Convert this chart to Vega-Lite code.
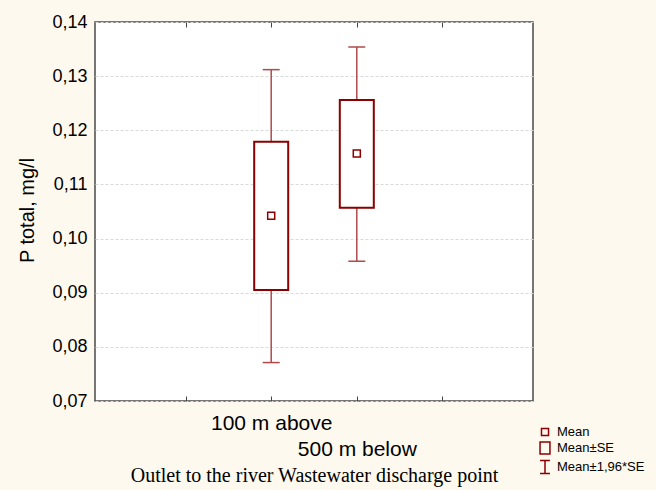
{
  "$schema": "https://vega.github.io/schema/vega-lite/v6.json",
  "width": 438,
  "height": 379,
  "autosize": {"type": "none"},
  "padding": {"left": 95, "top": 22, "right": 123, "bottom": 89},
  "background": "#FDF9EE",
  "config": {
    "view": {"stroke": "#4a4a4a", "strokeWidth": 1.5, "fill": "white"},
    "font": "Liberation Sans"
  },
  "datasets": {
    "stats": [
      {"site": "100 m above", "pos": 2, "mean": 0.1042, "se_lo": 0.0905, "se_hi": 0.1179, "ci_lo": 0.0771, "ci_hi": 0.1312, "series": "Mean"},
      {"site": "500 m below", "pos": 3, "mean": 0.1157, "se_lo": 0.1057, "se_hi": 0.1256, "ci_lo": 0.0958, "ci_hi": 0.1354, "series": "Mean"}
    ]
  },
  "data": {"name": "stats"},
  "layer": [
    {
      "mark": {"type": "rule", "color": "#B04A4A", "strokeWidth": 1.5},
      "encoding": {
        "x": {
          "field": "pos", "type": "quantitative",
          "scale": {"domain": [0, 5], "nice": false, "zero": false},
          "axis": {
            "orient": "bottom",
            "offset": -5,
            "values": [1, 2, 3, 4],
            "labelExpr": "datum.value == 2 ? '100 m above' : datum.value == 3 ? ['', '500 m below'] : ''",
            "labelFontSize": 21,
            "labelLineHeight": 26,
            "labelColor": "black",
            "labelPadding": 11,
            "labelOverlap": false,
            "labelFlush": false,
            "ticks": true,
            "tickSize": 5,
            "tickWidth": 1,
            "tickColor": "#444",
            "grid": false,
            "domain": false,
            "title": "Outlet to the river Wastewater discharge point",
            "titleFont": "Liberation Serif",
            "titleFontSize": 20,
            "titleFontWeight": "normal",
            "titleColor": "black",
            "titleY": 79,
            "titleBaseline": "middle"
          }
        },
        "y": {
          "field": "ci_lo", "type": "quantitative", "title": "P total, mg/l",
          "scale": {"domain": [0.07, 0.14], "nice": false, "zero": false},
          "axis": {
            "values": [0.07, 0.08, 0.09, 0.1, 0.11, 0.12, 0.13, 0.14],
            "labelExpr": "replace(format(datum.value, '.2f'), '.', ',')",
            "labelFontSize": 18,
            "labelColor": "black",
            "labelPadding": 8,
            "ticks": false,
            "domain": false,
            "grid": true,
            "gridColor": "#d9d9d9",
            "gridDash": [3, 2],
            "titleFontSize": 20,
            "titleFontWeight": "normal",
            "titleColor": "black",
            "titleX": -68,
            "titleY": 188,
            "titleAngle": -90,
            "titleAlign": "center",
            "titleBaseline": "middle"
          }
        },
        "y2": {"field": "ci_hi"}
      }
    },
    {
      "mark": {"type": "tick", "orient": "horizontal", "color": "#B04A4A", "thickness": 1.5, "size": 17, "opacity": 1},
      "encoding": {
        "x": {
          "field": "pos", "type": "quantitative",
          "axis": {"orient": "top", "offset": -5, "values": [1, 2, 3, 4], "labels": false, "ticks": true, "tickSize": 5, "tickWidth": 1, "tickColor": "#444", "domain": false, "grid": false, "title": null}
        },
        "y": {"field": "ci_lo", "type": "quantitative", "title": "P total, mg/l"}
      }
    },
    {
      "mark": {"type": "tick", "orient": "horizontal", "color": "#B04A4A", "thickness": 1.5, "size": 17, "opacity": 1},
      "encoding": {
        "x": {"field": "pos", "type": "quantitative", "axis": null},
        "y": {"field": "ci_hi", "type": "quantitative", "title": "P total, mg/l"}
      }
    },
    {
      "mark": {"type": "bar", "width": 34, "fill": "white", "stroke": "#8B0000", "strokeWidth": 2},
      "encoding": {
        "x": {"field": "pos", "type": "quantitative", "axis": null},
        "y": {"field": "se_lo", "type": "quantitative", "title": "P total, mg/l"},
        "y2": {"field": "se_hi"}
      }
    },
    {
      "mark": {"type": "point", "filled": false, "size": 256, "stroke": "#8B0000", "strokeWidth": 1.5, "opacity": 1},
      "encoding": {
        "x": {"field": "pos", "type": "quantitative", "axis": null},
        "y": {"field": "mean", "type": "quantitative", "title": "P total, mg/l"},
        "shape": {
          "field": "series", "type": "nominal",
          "scale": {
            "domain": ["Mean", "Mean±SE", "Mean±1,96*SE"],
            "range": [
              "M-0.44,-0.44H0.44V0.44H-0.44Z",
              "M-0.62,-0.75H0.62V0.75H-0.62Z",
              "M-0.62,-0.8H0.62M0,-0.8V0.8M-0.62,0.8H0.62"
            ]
          },
          "legend": {
            "orient": "none",
            "legendX": 441,
            "legendY": 401,
            "title": null,
            "labelFontSize": 13,
            "labelColor": "black",
            "labelOffset": 3,
            "symbolSize": 256,
            "symbolStrokeWidth": 1.5,
            "symbolStrokeColor": "#8B0000",
            "symbolFillColor": "transparent",
            "rowPadding": 0
          }
        }
      }
    }
  ],
  "resolve": {"axis": {"x": "independent"}}
}
